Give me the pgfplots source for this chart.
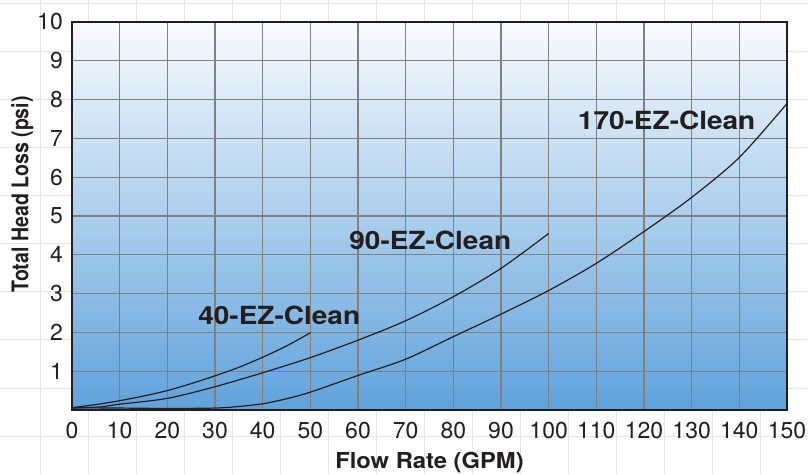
\documentclass[border=0pt]{standalone}
\usepackage{fontspec}
\setmainfont{TeX Gyre Heros}
\usepackage{graphicx}
\usepackage{pgfplots}
\pgfplotsset{compat=1.18}

\definecolor{inkdark}{RGB}{35,31,32}
\definecolor{gridgray}{RGB}{128,128,128}
\definecolor{bgline}{RGB}{228,228,228}
\definecolor{shadetop}{RGB}{249,251,254}
\definecolor{shadebot}{RGB}{96,162,219}

\pgfplotsset{curve/.style={draw=inkdark, line width=1.2pt, smooth, mark=none}}

\begin{document}
\begin{tikzpicture}
% faint sheet grid behind the chart
\foreach \i in {0,...,15}
  \draw[bgline, line width=1pt] ({40.7pt+48pt*\i},0pt) -- ++(0pt,474pt);
\foreach \j in {0,...,9}
  \draw[bgline, line width=1pt] (0pt,{470pt-48pt*\j}) -- ++(808pt,0pt);

\begin{axis}[
    at={(72pt,64pt)}, anchor=south west,
    scale only axis,
    width=715pt, height=388pt,
    xmin=0, xmax=150,
    ymin=0, ymax=10,
    xtick={0,10,...,150},
    ytick={1,2,...,10},
    grid=major,
    major grid style={draw=gridgray, line width=1.2pt},
    major tick length=0pt,
    axis line style={draw=inkdark, line width=1.6pt},
    axis background/.style={top color=shadetop, bottom color=shadebot},
    /pgf/number format/assume math mode=true,
    tick label style={font=\fontsize{23}{23}\selectfont, text=inkdark},
    xticklabel style={anchor=north, inner sep=0pt, yshift=-12pt},
    yticklabel style={anchor=east, inner sep=0pt, xshift=-9pt},
    xlabel={\scalebox{1.08}[1]{Flow Rate (GPM)}},
    xlabel style={at={(axis description cs:0.5,0)}, anchor=base,
        yshift=-58pt, inner sep=0pt,
        font=\bfseries\fontsize{22}{22}\selectfont, text=inkdark},
    ylabel={\scalebox{0.85}[1]{Total Head Loss (psi)}},
    ylabel style={at={(axis description cs:-0.0611,0.556)}, anchor=base,
        rotate=0, inner sep=0pt,
        font=\bfseries\fontsize{23}{23}\selectfont, text=inkdark},
]

% 40-EZ-Clean
\addplot[curve] coordinates {
    (0,0.06)(5,0.14)(10,0.24)(15,0.36)(20,0.50)(25,0.68)(30,0.88)
    (35,1.10)(40,1.36)(45,1.65)(50,1.99)
};
% 90-EZ-Clean
\addplot[curve] coordinates {
    (0,0.05)(6,0.08)(10,0.15)(20,0.30)(30,0.60)(40,0.96)(50,1.35)
    (60,1.80)(70,2.30)(80,2.92)(90,3.65)(100,4.55)
};
% 170-EZ-Clean
\addplot[curve] coordinates {
    (0,0.06)(10,0.05)(20,0.04)(30,0.05)(35,0.09)(40,0.16)(45,0.29)
    (50,0.46)(60,0.89)(70,1.31)(80,1.89)(90,2.47)(100,3.08)(110,3.78)
    (120,4.60)(130,5.48)(140,6.51)(150,7.90)
};

\node[anchor=base, inner sep=0pt, text=inkdark, font=\bfseries\fontsize{25}{25}\selectfont]
    at (axis cs:43.47,2.21) {\scalebox{1.12}[1]{40-EZ-Clean}};
\node[anchor=base, inner sep=0pt, text=inkdark, font=\bfseries\fontsize{25}{25}\selectfont]
    at (axis cs:75.17,4.14) {\scalebox{1.12}[1]{90-EZ-Clean}};
\node[anchor=base, inner sep=0pt, text=inkdark, font=\bfseries\fontsize{25}{25}\selectfont]
    at (axis cs:124.75,7.23) {\scalebox{1.12}[1]{170-EZ-Clean}};
\end{axis}

\pgfresetboundingbox
\useasboundingbox (0pt,0pt) rectangle (808pt,474pt);
\end{tikzpicture}
\end{document}
